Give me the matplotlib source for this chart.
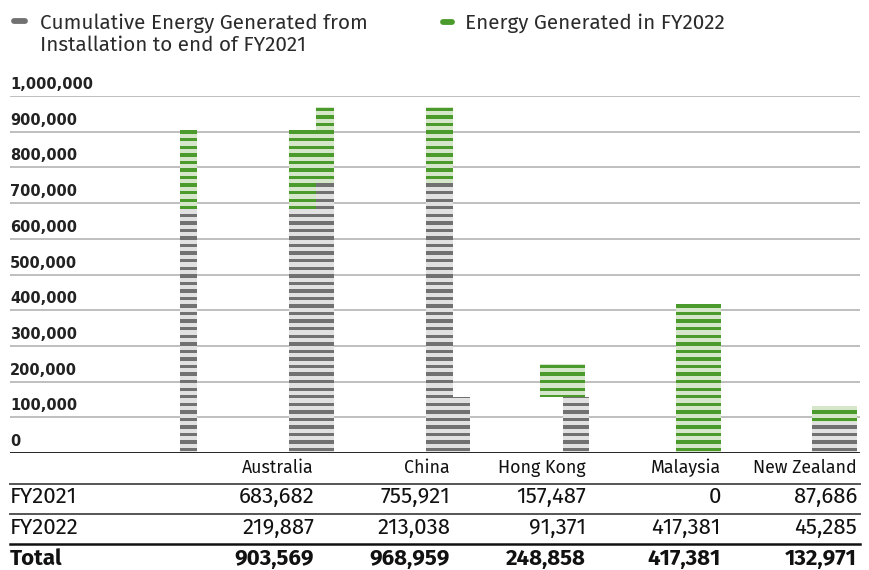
import matplotlib
matplotlib.use("Agg")
import matplotlib.pyplot as plt
import numpy as np
from matplotlib.collections import PatchCollection
from matplotlib.lines import Line2D
from matplotlib.patches import Rectangle

# ---- data -------------------------------------------------------------
countries = ["Australia", "China", "Hong Kong", "Malaysia", "New Zealand"]
fy2021 = [683682, 755921, 157487, 0, 87686]
fy2022 = [219887, 213038, 91371, 417381, 45285]
totals = [a + b for a, b in zip(fy2021, fy2022)]
row_labels = ["FY2021", "FY2022", "Total"]
legend_labels = ["Cumulative Energy Generated from\nInstallation to end of FY2021",
                 "Energy Generated in FY2022"]
y_ticks = [0, 100000, 200000, 300000, 400000, 500000, 600000, 700000,
           800000, 900000, 1000000]

# ---- styling ----------------------------------------------------------
GRAY_DARK, GRAY_LIGHT = "#717171", "#e1e1e1"
GREEN_DARK, GREEN_LIGHT = "#4a9a2c", "#d5e6ca"
TEXT = "#2b2b2b"
SANS = ["Fira Sans", "DejaVu Sans"]

# bar pieces: (category index, offset from slot centre, width, layers)
pieces = [
    (0, -0.7715, 0.125, "both"),
    (0, 0.0661, 0.198, "both"),
    (1, -0.7686, 0.132, "both"),
    (2, -0.8648, 0.323, "gray"),
    (1, 0.0727, 0.198, "both"),
    (2, -0.0235, 0.331, "green"),
    (2, 0.0757, 0.191, "gray"),
    (3, -0.0242, 0.331, "both"),
    (4, -0.0250, 0.331, "both"),
]

W, H = 869, 570
fig = plt.figure(figsize=(W / 100, H / 100), dpi=100)
ax_l, ax_r, ax_b, ax_t = 10, 860, 453, 96  # pixel frame of plot area
ax = fig.add_axes([ax_l / W, (H - ax_b) / H, (ax_r - ax_l) / W, (ax_b - ax_t) / H])
slot0, slot_w = 293.5, 136.1
ax.set_xlim((ax_l - slot0) / slot_w, (ax_r - slot0) / slot_w)
ax.set_ylim(0, 1000000)
ax.axis("off")

px_y = 1000000 / (ax_b - ax_t)        # data units per pixel (vertical)
px_x = 1 / slot_w                       # data units per pixel (horizontal)
period = 7.56 * px_y
first = 3.3 * px_y
half = 1.7 * px_y

# gridlines and tick labels
for v in y_ticks[1:]:
    ax.axhline(v, color="#b4b4b4", lw=1.2, zorder=0)
ax.axhline(0, color="#111111", lw=2.0, zorder=50)
xmin = ax.get_xlim()[0]
for v in y_ticks:
    ax.text(xmin, v + 4 * px_y, f"{v:,}", ha="left", va="bottom",
            fontsize=10.5, fontweight="bold", family="DejaVu Sans", color="#222222")


def striped(x0, x1, y0, y1, dark, light, z):
    if y1 <= y0:
        return
    ax.add_patch(Rectangle((x0, y0), x1 - x0, y1 - y0, facecolor=light,
                           edgecolor="none", zorder=z))
    centres = first + period * np.arange(0, 140)
    bands = []
    for c in centres:
        lo, hi = max(c - half, y0), min(c + half, y1)
        if hi > lo:
            bands.append(Rectangle((x0 + 0.4 * px_x, lo), x1 - x0 - 0.8 * px_x, hi - lo))
    ax.add_collection(PatchCollection(bands, facecolor=dark, edgecolor="none",
                                      zorder=z + 0.5))


for k, (ci, off, w, layers) in enumerate(pieces):
    x0 = ci + off - w / 2
    x1 = ci + off + w / 2
    z = 2 + k
    if layers in ("both", "gray"):
        striped(x0, x1, 0, fy2021[ci], GRAY_DARK, GRAY_LIGHT, z)
    if layers in ("both", "green"):
        striped(x0, x1, fy2021[ci], totals[ci], GREEN_DARK, GREEN_LIGHT, z)

# ---- legend -----------------------------------------------------------
def legend_mark(x0, x1, y, color):
    fig.add_artist(Line2D([x0 / W, x1 / W], [1 - y / H, 1 - y / H], color=color,
                          lw=4.2, solid_capstyle="round"))


legend_mark(14, 25, 21, GRAY_DARK)
legend_mark(443, 452, 22, GREEN_DARK)
fig.text(40 / W, 1 - 13 / H, legend_labels[0], ha="left", va="top", fontsize=14.9,
         family=SANS, color=TEXT, linespacing=1.17)
fig.text(465 / W, 1 - 13 / H, legend_labels[1], ha="left", va="top", fontsize=14.9,
         family=SANS, color=TEXT)

# ---- data table -------------------------------------------------------
col_right = [314, 450, 586, 721, 857]
row_y = [468, 497, 528, 559]
for name, xr in zip(countries, col_right):
    fig.text(xr / W, 1 - row_y[0] / H, name, ha="right", va="center",
             fontsize=12.8, family=SANS, color="#111111")
rows = [fy2021, fy2022, totals]
for r, (lab, vals) in enumerate(zip(row_labels, rows)):
    weight = "bold" if lab == "Total" else "normal"
    yy = 1 - row_y[r + 1] / H
    fig.text(10 / W, yy, lab, ha="left", va="center", fontsize=16, family=SANS,
             color="#111111", fontweight=weight)
    for v, xr in zip(vals, col_right):
        fig.text(xr / W, yy, f"{v:,}", ha="right", va="center", fontsize=16,
                 family=SANS, color="#111111", fontweight=weight)

for y, c, lw in [(484, "#555555", 1.4), (514, "#555555", 1.4), (544, "#111111", 1.8)]:
    fig.add_artist(Line2D([10 / W, 860 / W], [1 - y / H, 1 - y / H], color=c, lw=lw))

fig.savefig("out.png", dpi=100)
